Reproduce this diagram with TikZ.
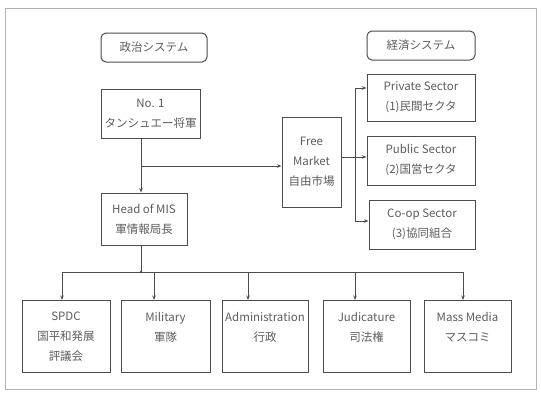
\documentclass[tikz,border=0pt]{standalone}
\usepackage{fontspec}
\setmainfont{Noto Sans CJK JP}
\usetikzlibrary{arrows.meta}
\definecolor{ln}{gray}{0.3}
\definecolor{tx}{gray}{0.36}
\begin{document}
\begin{tikzpicture}[x=1pt,y=-1pt,
  box/.style={draw=ln,line width=1pt,text=tx,align=center,inner sep=1pt,
    font=\fontsize{11.5}{20}\selectfont},
  tag/.style={box,rounded corners=5pt},
  conn/.style={draw=ln,line width=0.9pt},
  arr/.style={conn,-{Stealth[length=4.5pt,width=3.5pt]}}]
\useasboundingbox (0,0) rectangle (541,392);
\draw[gray!60,line width=0.8pt] (5,8) rectangle (536,389);
% header tags
\node[tag,minimum width=106pt,minimum height=29pt] (pol) at (154,47.5) {政治システム};
\node[tag,minimum width=108pt,minimum height=29pt] (eco) at (421,45.5) {経済システム};
% political side
\node[box,minimum width=99pt,minimum height=49pt] (no1) at (150.5,113.5) {No. 1\\タンシュエー将軍};
\node[box,minimum width=86pt,minimum height=52pt] (mis) at (144,219) {Head of MIS\\軍情報局長};
\node[box,minimum width=59pt,minimum height=90pt] (fm) at (311.5,162) {Free\\Market\\自由市場};
% economic sectors
\node[box,minimum width=108pt,minimum height=47pt] (priv) at (421,97.5) {Private Sector\\(1)民間セクタ};
\node[box,minimum width=108pt,minimum height=49pt] (pub) at (421,160.5) {Public Sector\\(2)国営セクタ};
\node[box,minimum width=106pt,minimum height=49pt] (coop) at (422,224.5) {Co-op Sector\\(3)協同組合};
% bottom row
\node[box,minimum width=88pt,minimum height=72pt,anchor=north] (spdc) at (66,300) {SPDC\\国平和発展\\評議会};
\node[box,minimum width=89pt,minimum height=72pt,anchor=north] (mil) at (165.5,300) {Military\\軍隊\\\mbox{}};
\node[box,minimum width=86pt,minimum height=72pt,anchor=north] (adm) at (265,300) {Administration\\行政\\\mbox{}};
\node[box,minimum width=87pt,minimum height=72pt,anchor=north] (jud) at (366.5,300) {Judicature\\司法権\\\mbox{}};
\node[box,minimum width=87pt,minimum height=72pt,anchor=north] (mm) at (467.5,300) {Mass Media\\マスコミ\\\mbox{}};
% junctions
\coordinate (j1) at (141,166);
\coordinate (j2) at (141,272);
\coordinate (j3) at (355,157);
\coordinate (d1) at (62,272);
\coordinate (d2) at (154,272);
\coordinate (d3) at (248,272);
\coordinate (d4) at (355,272);
\coordinate (d5) at (463,272);
\coordinate (e1) at (355,88);
\coordinate (e3) at (355,221);
% political connectors
\draw[conn] (no1.south -| j1) -- (j1);
\draw[arr] (j1) -- (mis.north -| j1);
\draw[arr] (j1) -- (fm.west |- j1);
\draw[conn] (mis.south -| j2) -- (j2);
\fill[ln] (j2) circle (1.3pt);
\draw[conn] (d1) -- (d5);
\draw[arr] (d1) -- (d1 |- spdc.north);
\draw[arr] (d2) -- (d2 |- mil.north);
\draw[arr] (d3) -- (d3 |- adm.north);
\draw[arr] (d4) -- (d4 |- jud.north);
\draw[arr] (d5) -- (d5 |- mm.north);
% economic connectors
\draw[conn] (fm.east |- j3) -- (j3);
\draw[conn] (e1) -- (e3);
\draw[arr] (e1) -- (priv.west |- e1);
\draw[arr] (j3) -- (pub.west |- j3);
\draw[arr] (e3) -- (coop.west |- e3);
\end{tikzpicture}
\end{document}
